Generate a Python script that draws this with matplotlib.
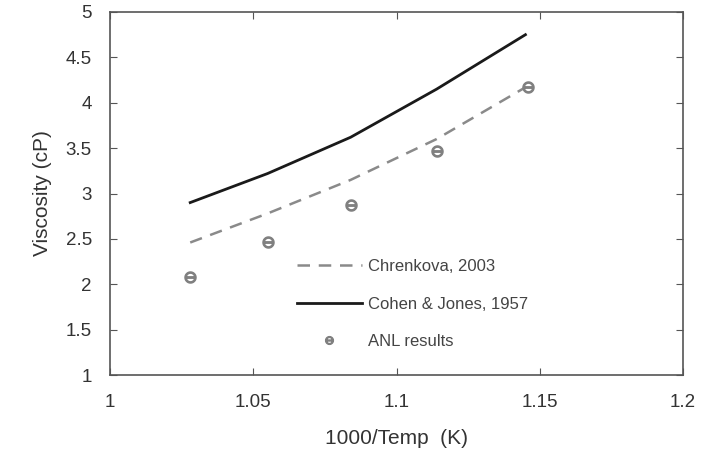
import numpy as np
import matplotlib.pyplot as plt

plt.rcParams['font.family'] = ['Liberation Sans', 'DejaVu Sans']

inv_temp = [1.028, 1.055, 1.084, 1.114, 1.145]
chrenkova = [2.46, 2.78, 3.15, 3.60, 4.17]
cohen = [2.90, 3.22, 3.62, 4.15, 4.75]
anl_x = [1.028, 1.055, 1.084, 1.114, 1.146]
anl_y = [2.08, 2.47, 2.87, 3.47, 4.17]

fig = plt.figure(figsize=(7.1, 4.5), dpi=100)
ax = fig.add_axes([110/710, 75/450, 573/710, 363/450])

ax.plot(inv_temp, chrenkova, color='#8a8a8a', lw=1.8, dashes=(5, 3.5), label='Chrenkova, 2003')
ax.plot(inv_temp, cohen, color='#1a1a1a', lw=2, label='Cohen & Jones, 1957')
ax.plot(anl_x, anl_y, ls='none', marker=r'$\ominus$', ms=8, color='#808080', label='ANL results')

ax.set_xlim(1, 1.2)
ax.set_ylim(1, 5)
ax.set_xticks([1, 1.05, 1.1, 1.15, 1.2])
ax.set_xticklabels(['1', '1.05', '1.1', '1.15', '1.2'])
ax.set_yticks([1, 1.5, 2, 2.5, 3, 3.5, 4, 4.5, 5])
ax.set_yticklabels(['1', '1.5', '2', '2.5', '3', '3.5', '4', '4.5', '5'])
ax.tick_params(direction='in', top=True, right=True, length=5, labelsize=13.5,
               colors='#555555', labelcolor='#333333')
ax.tick_params(axis='x', pad=14)
ax.tick_params(axis='y', pad=13)
for s in ax.spines.values():
    s.set_color('#555555')
    s.set_linewidth(1.2)

ax.set_xlabel('1000/Temp  (K)', fontsize=15, color='#333333', labelpad=13)
ax.set_ylabel('Viscosity (cP)', fontsize=15, color='#333333', labelpad=10)

leg = ax.legend(loc='upper left', bbox_to_anchor=(0.3, 0.36), frameon=False,
                handlelength=3.9, fontsize=12, labelspacing=1.35, handletextpad=0.35,
                markerscale=0.7)
for t in leg.get_texts():
    t.set_color('#444444')

fig.savefig('out.png', dpi=100)
